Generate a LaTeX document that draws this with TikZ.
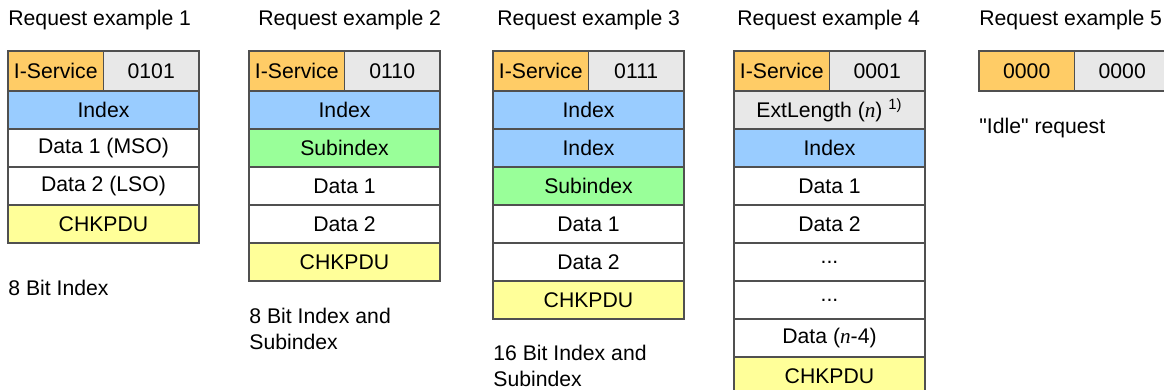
\documentclass[tikz,border=0pt]{standalone}
\usepackage{fontspec}
\setmainfont{Liberation Sans}
\newfontfamily\nfont{Liberation Serif}
\usetikzlibrary{positioning}

\definecolor{svcorange}{HTML}{FFCC66}
\definecolor{codegrey}{HTML}{E8E8E8}
\definecolor{idxblue}{HTML}{99CCFF}
\definecolor{subgreen}{HTML}{99FF99}
\definecolor{chkyellow}{HTML}{FFFF99}
\definecolor{cellline}{HTML}{505050}

\newcommand{\nvar}{{\nfont\itshape n}}

\begin{document}
\begin{tikzpicture}[
    x=0.5pt, y=-0.5pt,
    node distance=0pt,
    every node/.style={font=\fontsize{10.6}{13}\selectfont},
    cell/.style={draw=cellline, line width=0.7pt, outer sep=0pt, inner sep=0pt, minimum width=95.5pt, minimum height=19pt},
    head/.style={cell, minimum height=20pt, minimum width=47.75pt},
    svc/.style={head, fill=svcorange},
    code/.style={head, fill=codegrey},
    idx/.style={cell, fill=idxblue},
    sub/.style={cell, fill=subgreen},
    ext/.style={cell, fill=codegrey},
    dat/.style={cell, fill=white},
    chk/.style={cell, fill=chkyellow},
    title/.style={anchor=west, inner sep=0pt},
    note/.style={anchor=west, inner sep=0pt, align=left}
]
\useasboundingbox (0,0) rectangle (1164,390);

% example 1
\node[title] (t1) at (8,20) {Request example 1};
\node[svc, anchor=north west] (s1) at (8,51) {I-Service};
\node[code, right=of s1] (c1) {0101};
\node[idx, below right=0pt and 0pt of s1.south west] (a1) {Index};
\node[dat, below=of a1] (b1) {Data 1 (MSO)};
\node[dat, below=of b1] (d1) {Data 2 (LSO)};
\node[chk, below=of d1] (k1) {CHKPDU};
\node[note] (n1) at (8,288) {8 Bit Index};

% example 2
\node[title] (t2) at (258,20) {Request example 2};
\node[svc, anchor=north west] (s2) at (249,51) {I-Service};
\node[code, right=of s2] (c2) {0110};
\node[idx, below right=0pt and 0pt of s2.south west] (a2) {Index};
\node[sub, below=of a2] (b2) {Subindex};
\node[dat, below=of b2] (d2) {Data 1};
\node[dat, below=of d2] (e2) {Data 2};
\node[chk, below=of e2] (k2) {CHKPDU};
\node[note] (n2) at (249,329) {8 Bit Index and\\Subindex};

% example 3
\node[title] (t3) at (497,20) {Request example 3};
\node[svc, anchor=north west] (s3) at (493,51) {I-Service};
\node[code, right=of s3] (c3) {0111};
\node[idx, below right=0pt and 0pt of s3.south west] (a3) {Index};
\node[idx, below=of a3] (b3) {Index};
\node[sub, below=of b3] (d3) {Subindex};
\node[dat, below=of d3] (e3) {Data 1};
\node[dat, below=of e3] (f3) {Data 2};
\node[chk, below=of f3] (k3) {CHKPDU};
\node[note] (n3) at (493,366) {16 Bit Index and\\Subindex};

% example 4
\node[title] (t4) at (737,20) {Request example 4};
\node[svc, anchor=north west] (s4) at (734,51) {I-Service};
\node[code, right=of s4] (c4) {0001};
\node[ext, below right=0pt and 0pt of s4.south west] (x4) {ExtLength (\nvar) \textsuperscript{1)}};
\node[idx, below=of x4] (a4) {Index};
\node[dat, below=of a4] (b4) {Data 1};
\node[dat, below=of b4] (d4) {Data 2};
\node[dat, below=of d4] (e4) {.{}.{}.};
\node[dat, below=of e4] (f4) {.{}.{}.};
\node[dat, below=of f4] (g4) {Data (\nvar-4)};
\node[chk, below=of g4] (k4) {CHKPDU};

% example 5
\node[title] (t5) at (979,20) {Request example 5};
\node[svc, anchor=north west] (s5) at (979,51) {0000};
\node[code, right=of s5] (c5) {0000};
\node[note] (n5) at (979,128) {\textquotedbl Idle\textquotedbl{} request};
\end{tikzpicture}
\end{document}
